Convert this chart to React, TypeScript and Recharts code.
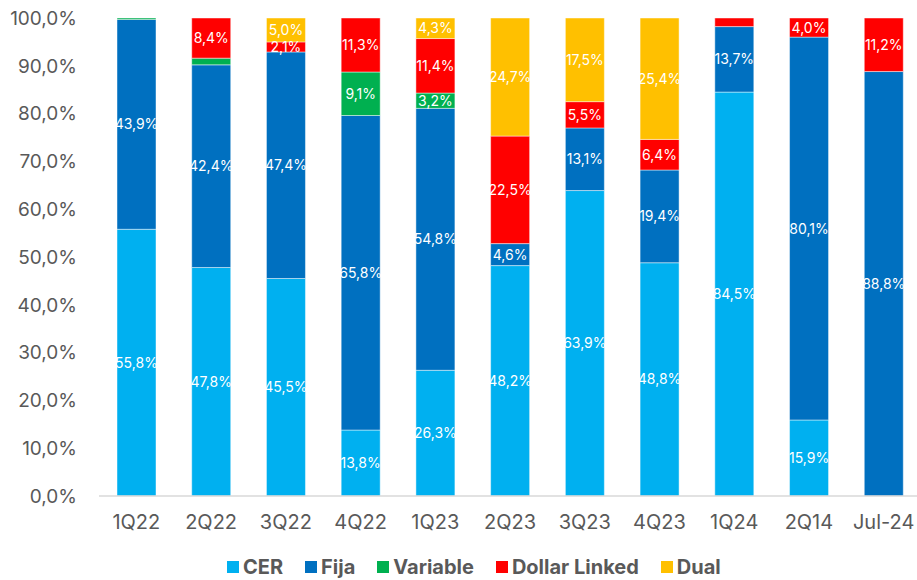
import React from 'react';
import { BarChart, Bar, XAxis, YAxis, LabelList, Legend } from 'recharts';

const categories = ['1Q22', '2Q22', '3Q22', '4Q22', '1Q23', '2Q23', '3Q23', '4Q23', '1Q24', '2Q14', 'Jul-24'];
const cer = [55.8, 47.8, 45.5, 13.8, 26.3, 48.2, 63.9, 48.8, 84.5, 15.9, 0];
const fija = [43.9, 42.4, 47.4, 65.8, 54.8, 4.6, 13.1, 19.4, 13.7, 80.1, 88.8];
const variable = [0.5, 1.4, 0, 9.1, 3.2, 0, 0, 0, 0, 0, 0];
const dollarLinked = [0, 8.4, 2.1, 11.3, 11.4, 22.5, 5.5, 6.4, 1.8, 4.0, 11.2];
const dual = [0, 0, 5.0, 0, 4.3, 24.7, 17.5, 25.4, 0, 0, 0];
const yTicks = [0, 10, 20, 30, 40, 50, 60, 70, 80, 90, 100];

const seriesDefs = [
  { key: 'CER', color: '#00B0F0' },
  { key: 'Fija', color: '#0070C0' },
  { key: 'Variable', color: '#00B050' },
  { key: 'Dollar Linked', color: '#FF0000' },
  { key: 'Dual', color: '#FFC000' },
];

const data = categories.map((c, i) => ({
  name: c,
  CER: cer[i],
  Fija: fija[i],
  Variable: variable[i],
  'Dollar Linked': dollarLinked[i],
  Dual: dual[i],
}));

const fmt = (v: number) => v.toFixed(1).replace('.', ',') + '%';
const labelFmt = (v: any) => (typeof v === 'number' && v >= 2 ? fmt(v) : '');

const FONT = 'Inter, "Noto Sans", sans-serif';

const LegendContent = () => (
  <div style={{ display: 'flex', alignItems: 'center', paddingLeft: 227, paddingTop: 6, fontFamily: FONT }}>
    {seriesDefs.map((s) => (
      <div key={s.key} style={{ display: 'flex', alignItems: 'center', marginRight: 22 }}>
        <div style={{ width: 12, height: 12, background: s.color, marginRight: 4 }} />
        <span style={{ fontSize: 20, fontWeight: 700, color: '#595959', lineHeight: '22px' }}>{s.key}</span>
      </div>
    ))}
  </div>
);

export default function App() {
  return (
    <div style={{ position: 'absolute', left: 0, top: 0, width: 917, height: 580, overflow: 'hidden', background: '#fff' }}>
      <BarChart
        width={925}
        height={580}
        data={data}
        margin={{ top: 18, right: 4, bottom: 0, left: 0 }}
        barSize={39}
      >
        <XAxis
          dataKey="name"
          height={54}
          tickLine={false}
          axisLine={{ stroke: '#D9D9D9', strokeWidth: 1.5 }}
          tickMargin={13}
          tick={{ fill: '#595959', fontSize: 20, fontFamily: FONT }}
          interval={0}
        />
        <YAxis
          width={99}
          domain={[0, 100]}
          ticks={yTicks}
          tickFormatter={fmt}
          axisLine={false}
          tickLine={false}
          tickMargin={16}
          tick={{ fill: '#595959', fontSize: 19, fontFamily: FONT }}
          allowDataOverflow
        />
        <Legend
          verticalAlign="bottom"
          content={<LegendContent />}
          wrapperStyle={{ height: 30, left: 0, width: 917 }}
        />
        {seriesDefs.map((s) => (
          <Bar
            key={s.key}
            dataKey={s.key}
            stackId="a"
            fill={s.color}
            stroke="#ffffff"
            strokeOpacity={0.45}
            strokeWidth={1}
            isAnimationActive={false}
          >
            <LabelList
              dataKey={s.key}
              position="center"
              formatter={labelFmt}
              fill="#ffffff"
              style={{ fontSize: 14, fontFamily: FONT, fill: '#ffffff' }}
            />
          </Bar>
        ))}
      </BarChart>
    </div>
  );
}
